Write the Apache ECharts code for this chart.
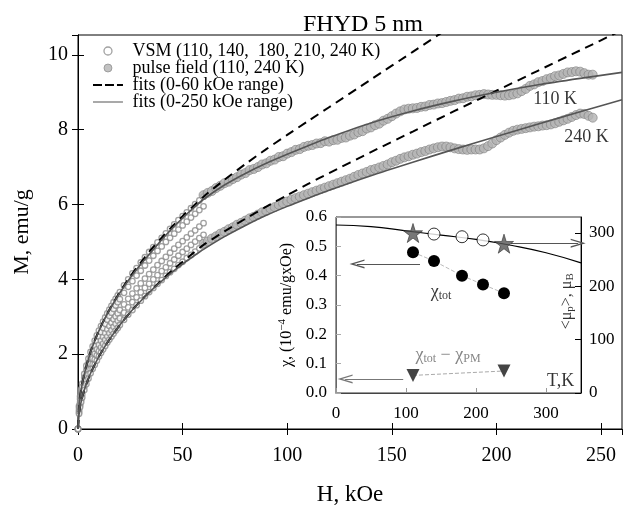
<!DOCTYPE html>
<html>
<head>
<meta charset="utf-8">
<title>FHYD 5 nm</title>
<script src="https://cdn.jsdelivr.net/npm/echarts@6/dist/echarts.min.js"></script>
<style>html,body{margin:0;padding:0;background:#fff}#main{width:623px;height:506px}</style>
</head>
<body>
<div id="main"></div>
<script>
// ---- main plot: M(H) ----
var vsmH = [0,0.5,1,1.5,2,3,4,5,6,7,8,9,10,11,12,13,14,15,16,17,18,19,20,22,24,26,28,30,32,34,36,38,40,42,44,46,48,50,52,54,56,58,60];
var vsm110 = [0,0.62,0.87,1.06,1.21,1.47,1.69,1.88,2.06,2.21,2.36,2.50,2.63,2.75,2.87,2.98,3.09,3.19,3.29,3.39,3.48,3.57,3.66,3.84,4.00,4.16,4.30,4.45,4.59,4.73,4.86,4.99,5.11,5.23,5.35,5.47,5.58,5.69,5.79,5.90,6.01,6.11,6.21];
var vsm140 = [0,0.57,0.80,0.98,1.12,1.37,1.58,1.76,1.92,2.08,2.22,2.35,2.47,2.59,2.70,2.81,2.92,3.02,3.11,3.21,3.30,3.39,3.47,3.64,3.80,3.95,4.10,4.23,4.37,4.50,4.63,4.76,4.88,5.00,5.11,5.22,5.33,5.44,5.54,5.65,5.75,5.85,5.95];
var vsm180 = [0,0.50,0.71,0.87,1.00,1.23,1.42,1.59,1.74,1.88,2.01,2.13,2.25,2.36,2.46,2.56,2.66,2.75,2.84,2.93,3.01,3.09,3.18,3.33,3.48,3.62,3.76,3.89,4.02,4.14,4.26,4.38,4.49,4.60,4.71,4.82,4.92,5.02,5.12,5.22,5.31,5.41,5.50];
var vsm210 = [0,0.45,0.64,0.79,0.92,1.13,1.30,1.46,1.60,1.73,1.86,1.97,2.08,2.18,2.28,2.38,2.47,2.56,2.64,2.73,2.81,2.89,2.96,3.11,3.25,3.39,3.52,3.65,3.77,3.88,4.00,4.11,4.22,4.32,4.43,4.53,4.63,4.73,4.82,4.92,5.01,5.10,5.19];
var vsm240 = [0,0.41,0.59,0.72,0.84,1.04,1.20,1.35,1.49,1.61,1.72,1.83,1.94,2.04,2.13,2.22,2.31,2.39,2.47,2.55,2.63,2.70,2.78,2.92,3.06,3.18,3.31,3.43,3.55,3.66,3.77,3.88,3.98,4.09,4.19,4.28,4.38,4.47,4.57,4.65,4.74,4.83,4.92];

var pulseH = [60,62,64,66,68,70,72,74,76,78,80,82,84,86,88,90,92,94,96,98,100,102,104,106,108,110,112,114,116,118,120,122,124,126,128,130,132,134,136,138,140,142,144,146,148,150,152,154,156,158,160,162,164,166,168,170,172,174,176,178,180,182,184,186,188,190,192,194,196,198,200,202,204,206,208,210,212,214,216,218,220,222,224,226,228,230,232,234,236,238,240,242,244,246];
var pulse110 = [6.25,6.31,6.36,6.44,6.50,6.57,6.61,6.68,6.73,6.80,6.84,6.92,6.95,7.00,7.07,7.10,7.17,7.20,7.27,7.29,7.36,7.40,7.46,7.48,7.54,7.57,7.59,7.63,7.64,7.69,7.68,7.72,7.73,7.78,7.79,7.84,7.87,7.93,7.96,8.03,8.06,8.12,8.16,8.24,8.29,8.36,8.43,8.49,8.54,8.56,8.57,8.58,8.61,8.62,8.66,8.67,8.70,8.71,8.74,8.77,8.79,8.83,8.84,8.88,8.89,8.92,8.93,8.95,8.94,8.93,8.93,8.92,8.91,8.92,8.94,8.97,9.03,9.09,9.17,9.21,9.27,9.30,9.35,9.38,9.43,9.45,9.49,9.53,9.54,9.56,9.55,9.51,9.47,9.47];
var pulse240 = [4.95,5.01,5.09,5.15,5.22,5.27,5.34,5.39,5.46,5.51,5.57,5.63,5.67,5.73,5.79,5.83,5.89,5.93,5.99,6.03,6.08,6.13,6.17,6.21,6.25,6.29,6.33,6.37,6.41,6.45,6.49,6.53,6.57,6.61,6.65,6.69,6.74,6.79,6.83,6.87,6.92,6.95,6.99,7.03,7.07,7.13,7.17,7.22,7.26,7.29,7.33,7.36,7.40,7.43,7.47,7.50,7.53,7.55,7.55,7.53,7.50,7.48,7.47,7.46,7.47,7.47,7.47,7.50,7.56,7.63,7.72,7.79,7.86,7.92,7.97,8.00,8.02,8.04,8.06,8.08,8.09,8.11,8.12,8.14,8.17,8.21,8.25,8.29,8.34,8.39,8.43,8.42,8.37,8.32];

var fitH = [0,0.5,1,2,3,4,5,6,8,10,12,15,20,25,30,35,40,45,50,55,60,70,80,90,100,110,120,140,160,180,200,220,240,260];
var dash110 = [0,0.62,0.87,1.21,1.47,1.69,1.88,2.06,2.36,2.63,2.87,3.19,3.66,4.08,4.45,4.80,5.11,5.41,5.69,5.95,6.21,6.66,7.08,7.48,7.86,8.23,8.60,9.34,10.08,10.82,11.56,12.30,13.04,13.78];
var dash240 = [0,0.41,0.59,0.84,1.04,1.20,1.35,1.49,1.72,1.94,2.13,2.39,2.78,3.12,3.43,3.71,3.98,4.24,4.47,4.70,4.92,5.28,5.62,5.94,6.25,6.55,6.84,7.40,7.95,8.50,9.04,9.58,10.12,10.66];
var solid110 = [0,0.60,0.85,1.20,1.46,1.68,1.87,2.05,2.35,2.62,2.86,3.18,3.64,4.04,4.40,4.73,5.06,5.36,5.64,5.90,6.14,6.52,6.83,7.10,7.34,7.57,7.79,8.18,8.50,8.77,9.00,9.20,9.37,9.53];
var solid240 = [0,0.41,0.59,0.84,1.04,1.20,1.35,1.49,1.72,1.94,2.13,2.39,2.78,3.12,3.42,3.70,3.95,4.19,4.41,4.61,4.80,5.14,5.44,5.71,5.95,6.17,6.38,6.77,7.13,7.48,7.82,8.15,8.48,8.80];

// ---- inset: chi(T) and <mu_p>(T) ----
var chiT = [110,140,180,210,240];
var chiTot = [0.48,0.45,0.40,0.37,0.34];
var starT = [110,240];
var starMu = [300,280];
var openT = [140,180,210];
var openMu = [298,293,287];
var muT = [0,50,100,150,200,250,300,350];
var muFit = [315,312,304,296,288,277,263,244];
var pmT = [110,240];
var chiPM = [0.06,0.075];

var serif = 'Liberation Serif';
var NAME_VSM = 'VSM (110, 140,  180, 210, 240 K)';
var NAME_PULSE = 'pulse field (110, 240 K)';
var NAME_F60 = 'fits (0-60 kOe range)';
var NAME_F250 = 'fits (0-250 kOe range)';
var arrowHead = 'path://M0,20 L10,0 L20,20 L17,20 L10,6 L3,20 Z';
var starPath = 'path://M50,0 L61,35 L98,35 L68,57 L79,91 L50,70 L21,91 L32,57 L2,35 L39,35 Z';
// legend icons (30 x 8 box)
var dashIcon = 'path://M0,3 L9,3 L9,5 L0,5 Z M12,3 L21,3 L21,5 L12,5 Z M24,3 L30,3 L30,5 L24,5 Z M0,0 L0,0.01 Z M0,8 L0,8.01 Z';
var solidIcon = 'path://M0,3.4 L30,3.4 L30,4.6 L0,4.6 Z M0,0 L0,0.01 Z M0,8 L0,8.01 Z';

function pairs(xs, ys) {
    return xs.map(function (x, i) { return [x, ys[i]]; });
}
function note(xi, yi, x, y, text, color, rotate) {
    return {
        type: 'scatter', xAxisIndex: xi, yAxisIndex: yi, symbolSize: 1, silent: true, z: 5,
        itemStyle: {color: 'transparent'},
        label: {show: true, position: 'inside', rotate: rotate || 0, formatter: text, color: color,
            fontFamily: serif, fontSize: 18,
            rich: {
                a: {fontFamily: serif, fontSize: 18, color: color},
                b: {fontFamily: serif, fontSize: 16, color: color},
                s: {fontFamily: serif, fontSize: 12, color: color, padding: [8, 0, 0, 0]},
                t: {fontFamily: serif, fontSize: 11, color: color, padding: [7, 0, 0, 0]}
            }},
        data: [[x, y]]
    };
}

var chart = echarts.init(document.getElementById('main'));
var series = [];
[vsm110, vsm140, vsm180, vsm210, vsm240].forEach(function (v) {
    series.push({name: NAME_VSM, type: 'scatter', xAxisIndex: 0, yAxisIndex: 0, symbolSize: 5.5, z: 2,
        itemStyle: {color: '#fff', borderColor: '#8a8a8a', borderWidth: 1.3}, data: pairs(vsmH, v)});
});
[pulse110, pulse240].forEach(function (v) {
    series.push({name: NAME_PULSE, type: 'scatter', xAxisIndex: 0, yAxisIndex: 0, symbolSize: 9, z: 2,
        itemStyle: {color: '#b3b3b3', borderColor: '#808080', borderWidth: 0.8}, data: pairs(pulseH, v)});
});
[dash110, dash240].forEach(function (v) {
    series.push({name: NAME_F60, type: 'line', xAxisIndex: 0, yAxisIndex: 0, symbol: 'none', z: 3,
        smooth: 0.25, clip: true, itemStyle: {color: '#000'},
        lineStyle: {color: '#000', width: 2, type: [9, 6]}, data: pairs(fitH, v)});
});
[solid110, solid240].forEach(function (v) {
    series.push({name: NAME_F250, type: 'line', xAxisIndex: 0, yAxisIndex: 0, symbol: 'none', z: 3,
        smooth: 0.25, clip: true, itemStyle: {color: '#555'},
        lineStyle: {color: '#555', width: 1.6}, data: pairs(fitH, v)});
});
series.push(note(0, 0, 228, 8.8, '110 K', '#000'));
series.push(note(0, 0, 243, 7.8, '240 K', '#000'));

// inset series
series.push({type: 'line', xAxisIndex: 2, yAxisIndex: 3, symbol: 'none', smooth: true, z: 3,
    lineStyle: {color: '#000', width: 1.2}, data: pairs(muT, muFit),
    markLine: {silent: true, symbol: ['none', arrowHead], symbolSize: [9, 15], label: {show: false},
        lineStyle: {color: '#555', width: 1.2, type: 'solid'},
        data: [[{coord: [250, 281]}, {coord: [346, 281]}]]}});
series.push({type: 'scatter', xAxisIndex: 2, yAxisIndex: 3, symbol: 'circle', symbolSize: 12, z: 4,
    itemStyle: {color: '#fff', borderColor: '#000', borderWidth: 1}, data: pairs(openT, openMu)});
series.push({type: 'scatter', xAxisIndex: 2, yAxisIndex: 3, symbol: starPath, symbolSize: 19, z: 5,
    itemStyle: {color: '#555', borderColor: '#333', borderWidth: 0.8}, data: pairs(starT, starMu)});
series.push({type: 'line', xAxisIndex: 2, yAxisIndex: 2, symbol: 'circle', symbolSize: 12, z: 4,
    itemStyle: {color: '#000'}, lineStyle: {color: '#bbb', width: 1, type: 'dashed'}, data: pairs(chiT, chiTot),
    markLine: {silent: true, symbol: ['none', arrowHead], symbolSize: [9, 15], label: {show: false},
        lineStyle: {color: '#555', width: 1.2, type: 'solid'},
        data: [[{coord: [120, 0.44]}, {coord: [30, 0.44]}],
               [{coord: [96, 0.048], lineStyle: {color: '#777'}}, {coord: [13, 0.048]}]]}});
series.push({type: 'line', xAxisIndex: 2, yAxisIndex: 2, symbol: 'triangle', symbolRotate: 180, symbolSize: 13, z: 4,
    itemStyle: {color: '#444'}, lineStyle: {color: '#aaa', width: 1, type: 'dashed'}, data: pairs(pmT, chiPM)});
series.push(note(2, 2, 150, 0.345, '{a|χ}{s|tot}', '#000'));
series.push(note(2, 2, 160, 0.13, '{a|χ}{s|tot}{a| − χ}{s|PM}', '#666'));
series.push(note(2, 2, 321, 0.04, 'T,K', '#000'));
series.push(note(2, 3, 329, 172, '{b|<μ}{t|p}{b|>, μ}{t|B}', '#000', 90));

chart.setOption({
    animation: false,
    backgroundColor: '#fff',
    title: {text: 'FHYD 5 nm', left: 298, top: 8,
        textStyle: {fontFamily: serif, fontSize: 24, fontWeight: 'normal', color: '#000'}},
    legend: {
        orient: 'vertical', left: 88, top: 37, itemWidth: 30, itemHeight: 8, itemGap: -1,
        formatter: function (n) { return ' ' + n; },
        textStyle: {fontFamily: serif, fontSize: 18, color: '#000'},
        data: [
            {name: NAME_VSM, icon: 'circle', itemStyle: {color: '#fff', borderColor: '#8a8a8a', borderWidth: 1.3}},
            {name: NAME_PULSE, icon: 'circle', itemStyle: {color: '#b3b3b3', borderColor: '#808080', borderWidth: 0.8}},
            {name: NAME_F60, icon: dashIcon, itemStyle: {color: '#000', borderWidth: 0}},
            {name: NAME_F250, icon: solidIcon, itemStyle: {color: '#555', borderWidth: 0}}
        ]
    },
    grid: [
        {left: 78, top: 35, width: 544, height: 394, show: true, borderColor: '#000', borderWidth: 1,
            backgroundColor: 'transparent', outerBoundsMode: 'none', containLabel: false},
        {left: 336, top: 217, width: 245, height: 176, show: true, borderColor: '#333', borderWidth: 1,
            backgroundColor: '#fff', outerBoundsMode: 'none', containLabel: false}
    ],
    xAxis: [
        {gridIndex: 0, type: 'value', min: 0, max: 260, interval: 50, position: 'bottom',
            axisLine: {lineStyle: {color: '#000'}}, axisTick: {inside: true, length: 6, lineStyle: {color: '#000'}},
            axisLabel: {fontFamily: serif, color: '#000', fontSize: 20, margin: 17, showMaxLabel: false,
                formatter: function (v) { return v % 50 === 0 ? v : ''; }},
            splitLine: {show: false},
            name: 'H, kOe', nameLocation: 'middle', nameGap: 54,
            nameTextStyle: {fontFamily: serif, fontSize: 23, color: '#000'}},
        {gridIndex: 0, type: 'value', min: 0, max: 260, interval: 50, position: 'top',
            axisLine: {lineStyle: {color: '#000'}}, axisTick: {inside: true, length: 6, lineStyle: {color: '#000'}},
            axisLabel: {show: false}, splitLine: {show: false}},
        {gridIndex: 1, type: 'value', min: 0, max: 350, interval: 100, position: 'bottom',
            axisLine: {lineStyle: {color: '#444'}}, axisTick: {inside: true, length: 5, lineStyle: {color: '#999'}},
            axisLabel: {fontFamily: serif, color: '#000', fontSize: 17, margin: 12, showMaxLabel: false,
                formatter: function (v) { return v % 100 === 0 ? v : ''; }},
            splitLine: {show: false}}
    ],
    yAxis: [
        {gridIndex: 0, type: 'value', min: 0, max: 10.53, interval: 2, position: 'left',
            axisLine: {lineStyle: {color: '#000'}}, axisTick: {inside: true, length: 6, lineStyle: {color: '#000'}},
            axisLabel: {fontFamily: serif, color: '#000', fontSize: 20, margin: 10, showMaxLabel: false,
                formatter: function (v) { return Math.abs(v - Math.round(v / 2) * 2) < 1e-6 ? v : ''; }},
            splitLine: {show: false},
            name: 'M, emu/g', nameLocation: 'middle', nameGap: 45,
            nameTextStyle: {fontFamily: serif, fontSize: 22, color: '#000'}},
        {gridIndex: 0, type: 'value', min: 0, max: 10.53, interval: 2, position: 'right',
            axisLine: {lineStyle: {color: '#000'}}, axisTick: {inside: true, length: 6, lineStyle: {color: '#000'}},
            axisLabel: {show: false}, splitLine: {show: false}},
        {gridIndex: 1, type: 'value', min: 0, max: 0.6, interval: 0.1, position: 'left',
            axisLine: {lineStyle: {color: '#666'}}, axisTick: {inside: true, length: 5, lineStyle: {color: '#aaa'}},
            axisLabel: {fontFamily: serif, color: '#000', fontSize: 17, margin: 9,
                formatter: function (v) { return v.toFixed(1); }},
            splitLine: {show: false},
            name: '{a|χ, (10}{u|−4}{a| emu/gxOe)}', nameLocation: 'middle', nameGap: 40,
            nameTextStyle: {fontFamily: serif, fontSize: 16, color: '#000',
                rich: {a: {fontFamily: serif, fontSize: 16, color: '#000'},
                       u: {fontFamily: serif, fontSize: 11, color: '#000', padding: [0, 0, 8, 0]}}}},
        {gridIndex: 1, type: 'value', min: 0, max: 330, interval: 100, position: 'right',
            axisLine: {lineStyle: {color: '#000'}}, axisTick: {inside: true, length: 6, lineStyle: {color: '#000'}},
            axisLabel: {fontFamily: serif, color: '#000', fontSize: 17, margin: 8, showMaxLabel: false,
                formatter: function (v) { return v % 100 === 0 ? v : ''; }},
            splitLine: {show: false}}
    ],
    series: series
});
</script>
</body>
</html>
